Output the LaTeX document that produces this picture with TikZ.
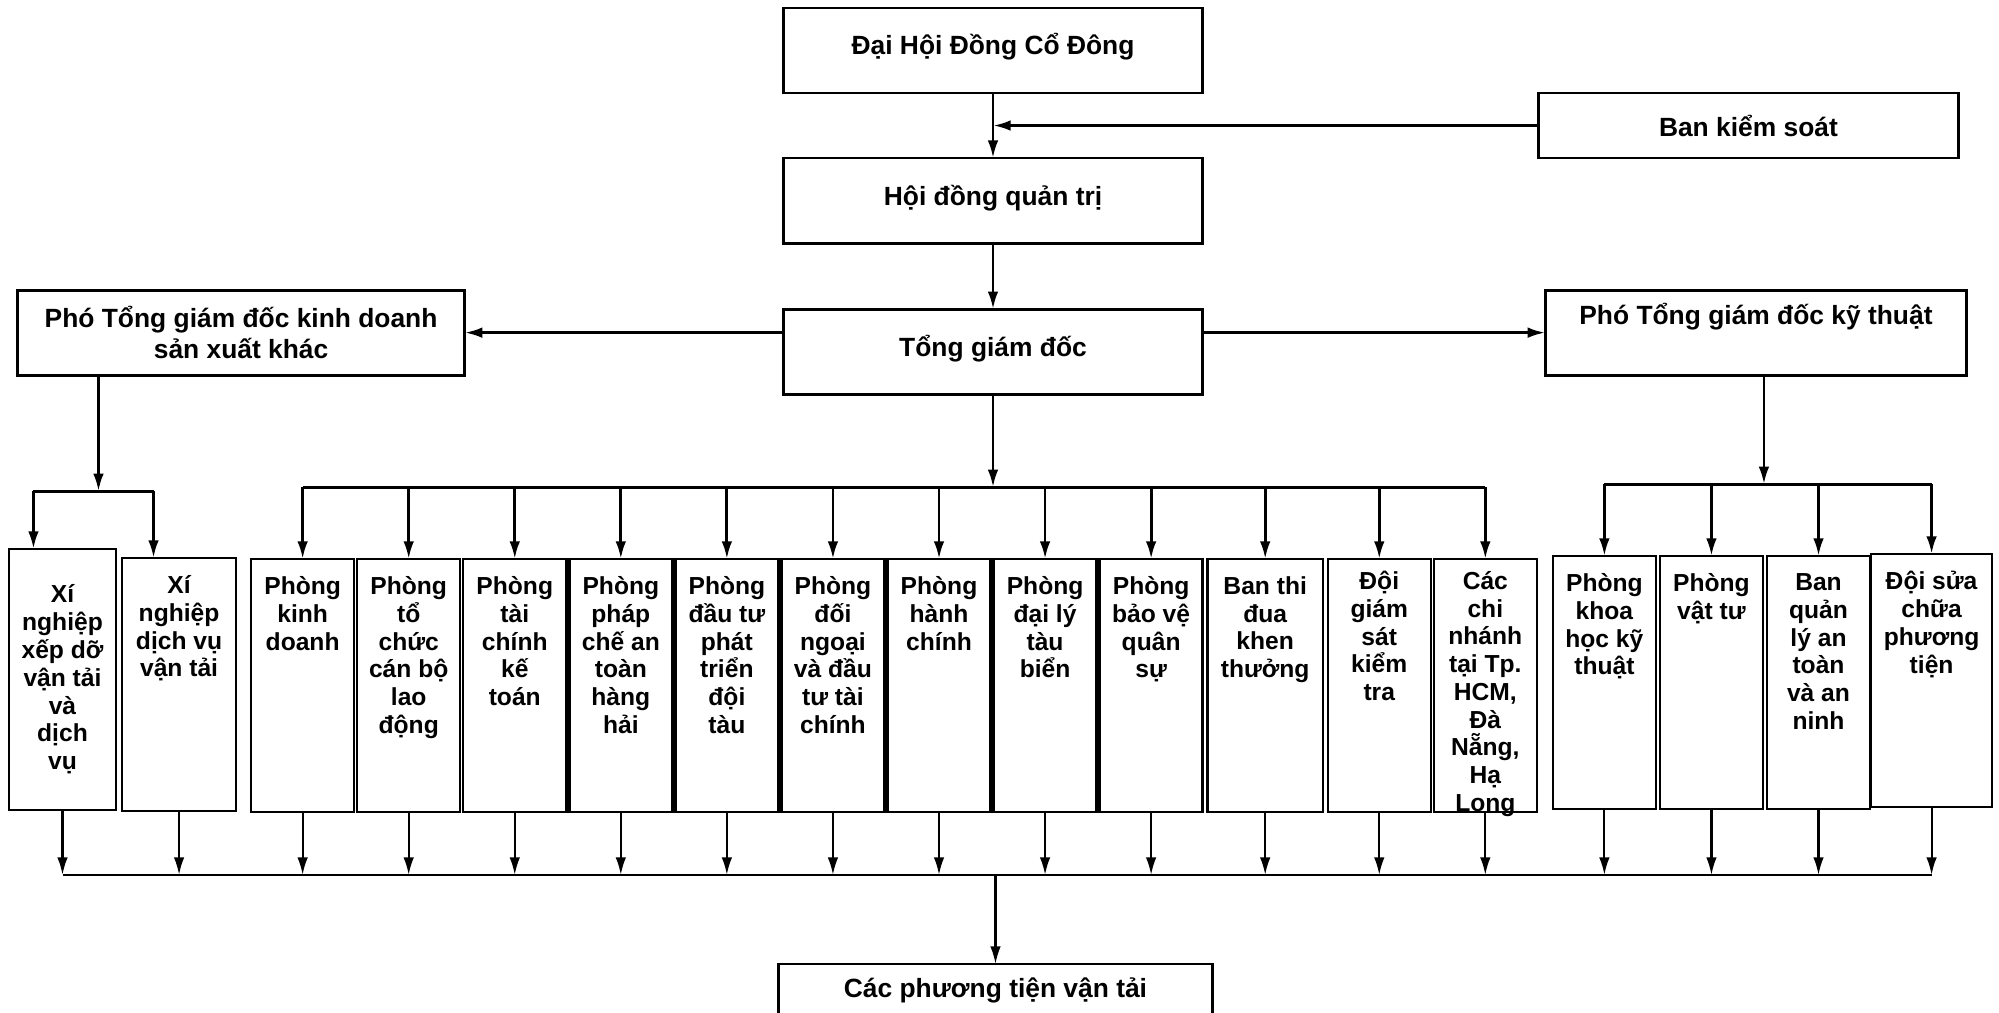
\documentclass[tikz,border=0pt]{standalone}
\usepackage{fontspec}
\setmainfont{Liberation Sans}
\usetikzlibrary{arrows.meta}
\usetikzlibrary{positioning}

\begin{document}
\begin{tikzpicture}[->,>={Latex[length=5pt,width=3pt]},line width=0.8pt,
			x=0.01cm,y=-0.01cm,node distance=0.65cm]
			\tikzstyle{head}=[draw,minimum width=4.18cm,minimum height=0.85cm,inner sep=0pt,outer sep=0pt,align=center,
			font=\bfseries\fontsize{7.5}{9}\selectfont]
			\tikzstyle{mid}=[text height=0.25cm,text depth=0.16cm]
			\tikzstyle{high}=[text height=0.25cm,text depth=0.42cm]
			\tikzstyle{low}=[line width=0.6pt]
			\tikzset{dtop/.store in=\dtop,dtop=5pt,
				dept/.style={draw,line width=0.7pt,inner sep=0pt,outer sep=0pt,
					execute at begin node={\begin{minipage}[t][2.53cm]{#1}\centering\bfseries\fontsize{7}{7.9}\selectfont\vspace{\dtop}},
					execute at end node={\end{minipage}}},dept/.default=1.03cm}
			
			\useasboundingbox (0,0) rectangle (1999,1013);
			
			\node[head,mid]      (dh)  at (993,50.5) {Đại Hội Đồng Cổ Đông};
			\node[head,mid]      (hd)  [below=of dh] {Hội đồng quản trị};
			\node[head,mid]      (tgd) [below=0.66cm of hd] {Tổng giám đốc};
			\node[head,minimum width=4.2cm,minimum height=0.65cm] (bks) [below right=0cm and 3.36cm of dh.south east] {Ban kiểm soát};
			\node[head,minimum width=4.47cm] (pkd) [left=3.19cm of tgd,yshift=0.19cm] {Phó Tổng giám đốc kinh doanh\\sản xuất khác};
			\node[head,high,minimum width=4.21cm] (pkt) [right=3.43cm of tgd,yshift=0.19cm] {Phó Tổng giám đốc kỹ thuật};
			
			\node[draw,line width=0.7pt,minimum width=1.07cm,minimum height=2.61cm,inner sep=0pt,outer sep=0pt,align=center,
			font=\bfseries\fontsize{7}{7.9}\selectfont] (x1) at (62.5,679.5) {Xí\\nghiệp\\xếp dỡ\\vận tải\\và\\dịch\\vụ};
			\node[dept=1.14cm]   (x2)  [right=0.06cm of x1,yshift=-0.05cm] {Xí\\nghiệp\\dịch vụ\\vận tải};
			\node[dept]          (p1)  [right=0.15cm of x2,yshift=-0.01cm] {Phòng\\kinh\\doanh};
			\node[dept]          (p2)  [right=0.03cm of p1] {Phòng\\tổ\\chức\\cán bộ\\lao\\động};
			\node[dept]          (p3)  [right=0.03cm of p2] {Phòng\\tài\\chính\\kế\\toán};
			\node[dept]          (p4)  [right=0.03cm of p3] {Phòng\\pháp\\chế an\\toàn\\hàng\\hải};
			\node[dept]          (p5)  [right=0.03cm of p4] {Phòng\\đầu tư\\phát\\triển\\đội\\tàu};
			\node[dept]          (p6)  [right=0.03cm of p5] {Phòng\\đối\\ngoại\\và đầu\\tư tài\\chính};
			\node[dept]          (p7)  [right=0.03cm of p6] {Phòng\\hành\\chính};
			\node[dept]          (p8)  [right=0.03cm of p7] {Phòng\\đại lý\\tàu\\biển};
			\node[dept]          (p9)  [right=0.03cm of p8] {Phòng\\bảo vệ\\quân\\sự};
			\node[dept=1.15cm]   (p10) [right=0.05cm of p9] {Ban thi\\đua\\khen\\thưởng};
			\node[dept,dtop=3.5pt] (p11) [right=0.05cm of p10] {Đội\\giám\\sát\\kiểm\\tra};
			\node[dept,dtop=3.5pt] (p12) [right=0.03cm of p11] {Các\\chi\\nhánh\\tại Tp.\\HCM,\\Đà\\Nẵng,\\Hạ\\Long};
			\node[dept]          (k1)  [right=0.16cm of p12,yshift=0.03cm] {Phòng\\khoa\\học kỹ\\thuật};
			\node[dept]          (k2)  [right=0.04cm of k1] {Phòng\\vật tư};
			\node[dept]          (k3)  [right=0.04cm of k2] {Ban\\quản\\lý an\\toàn\\và an\\ninh};
			\node[dept=1.21cm]   (k4)  [right=0.01cm of k3,yshift=0.02cm] {Đội sửa\\chữa\\phương\\tiện};
			
			\node[head,high,minimum width=4.33cm] (pt) at (995.5,1006.5) {Các phương tiện vận tải};
			
			\coordinate[below=0.93cm of tgd] (mbar);
			\coordinate[below=1.09cm of pkt,xshift=0.08cm] (rbar);
			\coordinate[below=1.16cm of pkd.south west,xshift=0.81cm] (lbar);
			\coordinate[left=0.65cm of lbar] (la);
			\coordinate[right=0.55cm of lbar] (lb);
			\coordinate[above=0.89cm of pt] (bbar);
			
			\path (dh) edge (hd)
			(hd) edge (tgd)
			(bks) edge (dh.south |- bks)
			(tgd.west |- pkd) edge (pkd)
			(tgd.east |- pkt) edge (pkt)
			(tgd) edge (mbar)
			(pkt.south -| rbar) edge (rbar)
			(pkd.south -| lbar) edge (lbar);
			
			\draw[-] (p1.north |- mbar) -- (p12.north |- mbar);
			\draw[-] (k1.north |- rbar) -- (k4.north |- rbar);
			\draw[-] (la) -- (lb);
			\foreach \n in {1,...,12}
				\draw (p\n.north |- mbar) -- (p\n);
			\foreach \n in {1,...,4}
				\draw (k\n.north |- rbar) -- (k\n);
			\draw (la) -- (la |- x1.north);
			\draw (lb) -- (lb |- x2.north);
			
			\draw[low,-] (x1.south |- bbar) -- (k4.south |- bbar);
			\foreach \n in {x1,x2,p1,p2,p3,p4,p5,p6,p7,p8,p9,p10,p11,p12,k1,k2,k3,k4}
				\draw[low] (\n) -- (\n.south |- bbar);
			\draw[low] (bbar) -- (pt);
\end{tikzpicture}
\end{document}
